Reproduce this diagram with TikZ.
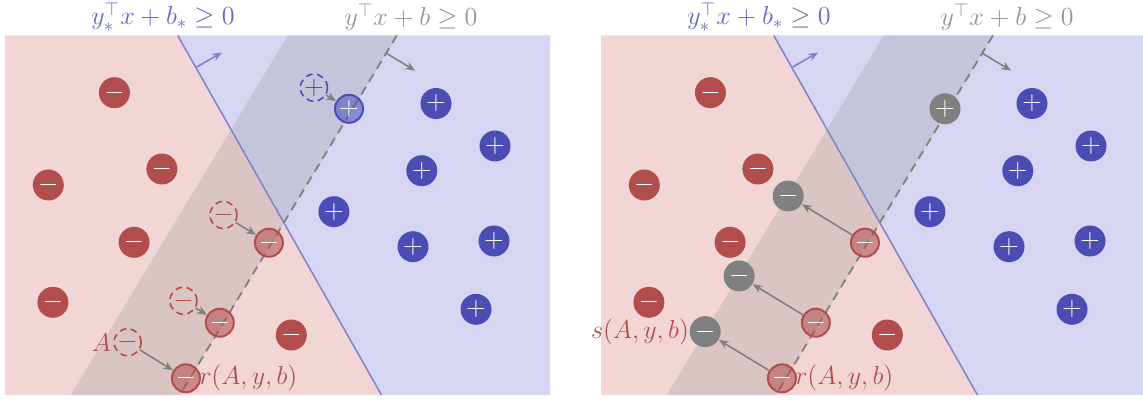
\RequirePackage{fix-cm}
\documentclass[tikz,border=0pt]{standalone}
\usepackage{amsmath,amssymb}
\usepackage{xcolor}
\usepackage{tikz}
\usetikzlibrary{arrows.meta}
\definecolor{cNeg}{HTML}{B24D4D}
\definecolor{cPos}{HTML}{4B4DB4}
\definecolor{cCinza}{HTML}{808080}
\definecolor{cFundoNeg}{HTML}{F2D6D6}
\definecolor{cFundoPos}{HTML}{D6D6F2}

\begin{document}
\begin{tikzpicture}[
  x=0.5pt,y=-0.5pt,font=\fontsize{13}{15}\selectfont,
  ptneg/.style={circle,fill=cNeg,text=white,minimum size=15.5pt,inner sep=0pt},
  ptpos/.style={circle,fill=cPos,text=white,minimum size=15.5pt,inner sep=0pt},
  ptcza/.style={circle,fill=cCinza,text=white,minimum size=15.5pt,inner sep=0pt},
  negmv/.style={circle,draw=cNeg,fill=cNeg,fill opacity=0.55,text opacity=1,text=white,
                line width=1pt,minimum size=14pt,inner sep=0pt},
  posmv/.style={circle,draw=cPos,fill=cPos,fill opacity=0.55,text opacity=1,text=white,
                line width=1pt,minimum size=14pt,inner sep=0pt},
  negorig/.style={circle,draw=cNeg,dash pattern=on 3.4pt off 2.2pt,line width=0.8pt,
                  text=cNeg,minimum size=13.5pt,inner sep=0pt},
  posorig/.style={circle,draw=cPos,dash pattern=on 3.4pt off 2.2pt,line width=0.8pt,
                  text=cPos,minimum size=13.5pt,inner sep=0pt},
  ar/.style={-{Stealth[length=5pt,width=4pt]},draw=cCinza,line width=0.8pt},
  arz/.style={-{Stealth[length=5pt,width=4pt]},draw=cPos!70,line width=0.8pt},
  frz/.style={draw=cPos!70,line width=0.75pt},
  frc/.style={draw=cCinza,line width=0.9pt,dash pattern=on 4.5pt off 3pt},
  lblz/.style={text=cPos!85},
  lblc/.style={text=cCinza!85},
  lblv/.style={text=cNeg,inner sep=0pt}
]
\useasboundingbox (0,0) rectangle (1143,400);

% ---- painel esquerdo: fundos
\fill[cFundoNeg] (5,35.5) -- (177.7,35.5) -- (381.5,395) -- (5,395) -- cycle;
\fill[cFundoPos] (177.7,35.5) -- (550,35.5) -- (550,395) -- (381.5,395) -- cycle;
\fill[cCinza,opacity=0.2] (287.8,35.5) -- (396.9,35.5) -- (179.8,395) -- (70.7,395) -- cycle;

% ---- fronteiras
\coordinate (ezA) at (177.7,35.5);
\coordinate (ezB) at (381.5,395);
\coordinate (ecA) at (396.9,35.5);
\coordinate (ecB) at (179.8,395);
\draw[frz] (ezA) -- (ezB);
\draw[frc] (ecA) -- (ecB);
\coordinate (enz0) at (195.8,67.5);
\coordinate (enz1) at (222.1,52.5);
\coordinate (enc0) at (386.4,53.3);
\coordinate (enc1) at (415.2,70.7);
\draw[arz] (enz0) -- (enz1);
\draw[ar] (enc0) -- (enc1);

% ---- pontos fixos
\node[ptneg] (en1) at (114.4,92.7)  {$-$};
\node[ptneg] (en2) at (161.9,169)   {$-$};
\node[ptneg] (en3) at (48.3,185)    {$-$};
\node[ptneg] (en4) at (134.1,242.3) {$-$};
\node[ptneg] (en5) at (52.9,302.3)  {$-$};
\node[ptneg] (en6) at (291.3,335)   {$-$};
\node[ptpos] (ep1) at (436,103.5)   {$+$};
\node[ptpos] (ep2) at (495,146)     {$+$};
\node[ptpos] (ep3) at (421.8,170.7) {$+$};
\node[ptpos] (ep4) at (333.9,211.7) {$+$};
\node[ptpos] (ep5) at (494,241)     {$+$};
\node[ptpos] (ep6) at (413,246.7)   {$+$};
\node[ptpos] (ep7) at (476,309.3)   {$+$};

% ---- pontos deslocados
\node[posorig] (ea0) at (313.9,87.7)  {$+$};
\node[negorig] (ea1) at (223.4,215)   {$-$};
\node[negorig] (ea2) at (183.4,300.7) {$-$};
\node[negorig] (ea3) at (127.6,342.3) {$-$};
\node[posmv] (em0) at (349,108.8)   {$+$};
\node[negmv] (em1) at (268.9,242.7) {$-$};
\node[negmv] (em2) at (219.8,322.7) {$-$};
\node[negmv] (em3) at (185.9,378.3) {$-$};
\draw[ar] (ea0) -- (em0);
\draw[ar] (ea1) -- (em1);
\draw[ar] (ea2) -- (em2);
\draw[ar] (ea3) -- (em3);
\node[lblv,anchor=east] (eA) at ([xshift=-1pt]ea3.west) {$A$};
\node[lblv,anchor=west] (er) at ([xshift=-1pt]em3.east) {$r(A,y,b)$};

% ---- rotulos
\node[lblz] (eqz) at (163,17) {$y_*^\top x+b_*\geq 0$};
\node[lblc] (eqc) at (411,17) {$y^\top x+b\geq 0$};

% ---- painel direito
\begin{scope}
\clip (560,0) rectangle (1143,400);
\begin{scope}[xshift=298pt]
\fill[cFundoNeg] (5,35.5) -- (177.7,35.5) -- (381.5,395) -- (5,395) -- cycle;
\fill[cFundoPos] (177.7,35.5) -- (560,35.5) -- (560,395) -- (381.5,395) -- cycle;
\fill[cCinza,opacity=0.2] (287.8,35.5) -- (396.9,35.5) -- (179.8,395) -- (70.7,395) -- cycle;

\coordinate (dzA) at (177.7,35.5);
\coordinate (dzB) at (381.5,395);
\coordinate (dcA) at (396.9,35.5);
\coordinate (dcB) at (179.8,395);
\draw[frz] (dzA) -- (dzB);
\draw[frc] (dcA) -- (dcB);
\coordinate (dnz0) at (195.8,67.5);
\coordinate (dnz1) at (222.1,52.5);
\coordinate (dnc0) at (386.4,53.3);
\coordinate (dnc1) at (415.2,70.7);
\draw[arz] (dnz0) -- (dnz1);
\draw[ar] (dnc0) -- (dnc1);

\node[ptneg] (dn1) at (114.4,92.7)  {$-$};
\node[ptneg] (dn2) at (161.9,169)   {$-$};
\node[ptneg] (dn3) at (48.3,185)    {$-$};
\node[ptneg] (dn4) at (134.1,242.3) {$-$};
\node[ptneg] (dn5) at (52.9,302.3)  {$-$};
\node[ptneg] (dn6) at (291.3,335)   {$-$};
\node[ptpos] (dp1) at (436,103.5)   {$+$};
\node[ptpos] (dp2) at (495,146)     {$+$};
\node[ptpos] (dp3) at (421.8,170.7) {$+$};
\node[ptpos] (dp4) at (333.9,211.7) {$+$};
\node[ptpos] (dp5) at (494,241)     {$+$};
\node[ptpos] (dp6) at (413,246.7)   {$+$};
\node[ptpos] (dp7) at (476,309.3)   {$+$};

\node[ptcza] (dg0) at (349,108.8) {$+$};
\node[negmv] (dm1) at (268.9,242.7) {$-$};
\node[negmv] (dm2) at (219.8,322.7) {$-$};
\node[negmv] (dm3) at (185.9,378.3) {$-$};
\node[ptcza] (dg1) at (192.2,196)   {$-$};
\node[ptcza] (dg2) at (143.1,276)   {$-$};
\node[ptcza] (dg3) at (109.2,331.6) {$-$};
\draw[ar] (dm1) -- (dg1);
\draw[ar] (dm2) -- (dg2);
\draw[ar] (dm3) -- (dg3);
\node[lblv,anchor=east] (ds) at (dg3.west) {$s(A,y,b)$};
\node[lblv,anchor=west] (dr) at ([xshift=-1pt]dm3.east) {$r(A,y,b)$};

\node[lblz] (dqz) at (163,17) {$y_*^\top x+b_*\geq 0$};
\node[lblc] (dqc) at (411,17) {$y^\top x+b\geq 0$};
\end{scope}
\end{scope}
\end{tikzpicture}
\end{document}
